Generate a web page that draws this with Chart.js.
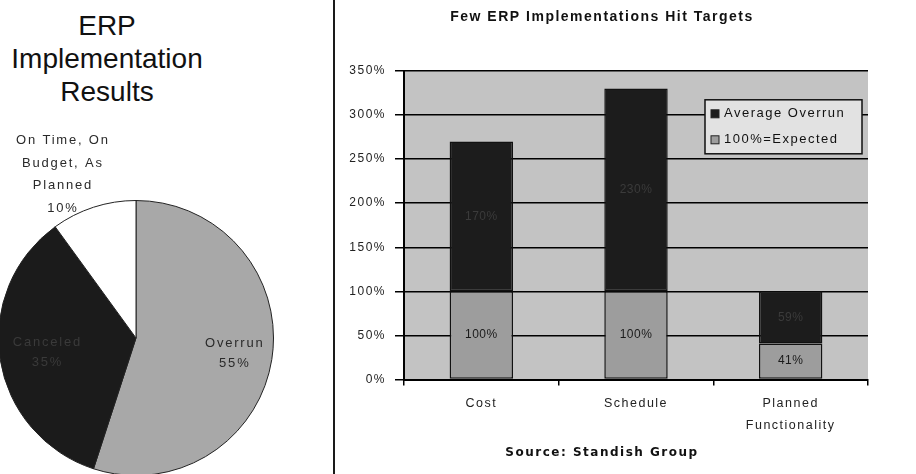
<!DOCTYPE html>
<html>
<head>
<meta charset="utf-8">
<script src="https://cdn.jsdelivr.net/npm/chart.js@4.4.0/dist/chart.umd.min.js"></script>
<style>
  body { margin: 0; width: 916px; height: 474px; background: #fff; overflow: hidden; position: relative; font-family: "Liberation Sans", Arial, sans-serif; }
  #pieWrap { position: absolute; left: 0; top: 0; width: 333px; height: 474px; overflow: hidden; }
  #pieTitle { position: absolute; left: 0; top: 9px; width: 214px; text-align: center; font-size: 28px; line-height: 33px; color: #111; }
  #pieCanvas { position: absolute; left: -2px; top: 0; }
  #divider { position: absolute; left: 333px; top: 0; width: 2px; height: 474px; background: #1a1a1a; }
  #barCanvas { position: absolute; left: 336px; top: 0; }
</style>
</head>
<body>
<div id="pieWrap">
  <div id="pieTitle">ERP<br>Implementation<br>Results</div>
  <canvas id="pieCanvas" width="276" height="476"></canvas>
</div>
<div id="divider"></div>
<canvas id="barCanvas" width="580" height="474"></canvas>

<script>
// --- dados do gráfico de pizza ---
const pieCategories = [['Overrun'], ['Canceled'], ['On Time, On', 'Budget, As', 'Planned']];
const pieValues = [55, 35, 10];
const pieColors = ['#a8a8a8', '#1b1b1b', '#ffffff'];

// --- dados do gráfico de barras ---
const barCategories = ['Cost', 'Schedule', ['Planned', 'Functionality']];
const expectedValues = [100, 100, 41];
const overrunValues = [170, 230, 59];
const yTicks = [0, 50, 100, 150, 200, 250, 300, 350];

Chart.defaults.font.family = '"Liberation Sans", Arial, sans-serif';
Chart.defaults.font.size = 12;
Chart.defaults.color = '#222';

// rótulos das fatias (dentro / fora da pizza)
const pieLabelDist = [0.72, 0.66, 1.25];
const pieLabels = {
    id: 'pieLabels',
    afterDatasetsDraw(chart) {
        const ctx = chart.ctx;
        const meta = chart.getDatasetMeta(0);
        ctx.save();
        ctx.font = '13px "Liberation Sans", Arial, sans-serif';
        ctx.letterSpacing = '1.8px';
        ctx.textAlign = 'center';
        ctx.textBaseline = 'middle';
        meta.data.forEach((arc, i) => {
            const mid = (arc.startAngle + arc.endAngle) / 2;
            const fora = pieLabelDist[i] > 1;
            const r = arc.outerRadius * pieLabelDist[i];
            let x = arc.x + Math.cos(mid) * r;
            const y = arc.y + Math.sin(mid) * r;
            if (fora) x -= 21;
            const lines = [...pieCategories[i], pieValues[i] + '%'];
            ctx.fillStyle = i === 1 ? '#3a3a3a' : '#2a2a2a';
            const lh = fora ? 22.5 : 20;
            const y0 = y - (lines.length - 1) * lh / 2;
            lines.forEach((t, k) => ctx.fillText(t, x + 1, y0 + k * lh));
        });
        ctx.restore();
    }
};

new Chart(document.getElementById('pieCanvas'), {
    type: 'pie',
    data: {
        labels: pieCategories,
        datasets: [{
            data: pieValues,
            backgroundColor: pieColors,
            borderColor: '#222',
            borderWidth: 1
        }]
    },
    options: {
        responsive: false,
        animation: false,
        devicePixelRatio: 1,
        layout: { padding: { top: 200 } },
        plugins: { legend: { display: false }, tooltip: { enabled: false } }
    },
    plugins: [pieLabels]
});

// texto largo como no original (espaçamento entre letras)
const wideText = {
    id: 'wideText',
    beforeLayout(chart) { chart.ctx.letterSpacing = '1.5px'; },
    beforeDraw(chart) { chart.ctx.letterSpacing = '1.5px'; }
};

// fundo cinza da área de plotagem
const plotBg = {
    id: 'plotBg',
    beforeDraw(chart) {
        const a = chart.chartArea;
        chart.ctx.save();
        chart.ctx.fillStyle = '#c3c3c3';
        chart.ctx.fillRect(a.left, a.top, a.right - a.left, a.bottom - a.top);
        chart.ctx.restore();
    }
};

// valores dentro das barras
const barValues = {
    id: 'barValues',
    afterDatasetsDraw(chart) {
        const ctx = chart.ctx;
        ctx.save();
        ctx.font = '12px "Liberation Sans", Arial, sans-serif';
        ctx.letterSpacing = '0.5px';
        ctx.textAlign = 'center';
        ctx.textBaseline = 'middle';
        chart.data.datasets.forEach((ds, di) => {
            chart.getDatasetMeta(di).data.forEach((bar, i) => {
                ctx.fillStyle = di === 1 ? '#3b3b3b' : '#1a1a1a';
                ctx.fillText(ds.data[i] + '%', bar.x, (bar.y + bar.base) / 2);
            });
        });
        ctx.restore();
    }
};

// legenda com moldura dentro da área de plotagem
const boxLegend = {
    id: 'boxLegend',
    afterDraw(chart) {
        const ctx = chart.ctx;
        const a = chart.chartArea;
        const w = 157, h = 54;
        const x = a.right - w - 6, y = a.top + 29;
        ctx.save();
        ctx.fillStyle = '#e2e2e2';
        ctx.fillRect(x, y, w, h);
        ctx.strokeStyle = '#111';
        ctx.lineWidth = 1.5;
        ctx.strokeRect(x, y, w, h);
        ctx.font = '13px "Liberation Sans", Arial, sans-serif';
        ctx.letterSpacing = '1.5px';
        ctx.textBaseline = 'middle';
        const items = chart.data.datasets.slice().reverse();
        items.forEach((ds, k) => {
            const cy = y + 14 + k * 26;
            ctx.fillStyle = ds.backgroundColor;
            ctx.fillRect(x + 6, cy - 4, 8, 8);
            ctx.strokeStyle = '#222';
            ctx.lineWidth = 1;
            ctx.strokeRect(x + 6, cy - 4, 8, 8);
            ctx.fillStyle = '#111';
            ctx.fillText(ds.label, x + 19, cy);
        });
        ctx.restore();
    }
};

new Chart(document.getElementById('barCanvas'), {
    type: 'bar',
    data: {
        labels: barCategories,
        datasets: [
            {
                label: '100%=Expected',
                data: expectedValues,
                backgroundColor: '#9d9d9d',
                borderColor: '#111',
                borderWidth: 1.5,
                borderSkipped: false,
                categoryPercentage: 1,
                barPercentage: 0.41
            },
            {
                label: 'Average Overrun',
                data: overrunValues,
                backgroundColor: '#1c1c1c',
                borderColor: '#111',
                borderWidth: 1.5,
                borderSkipped: false,
                categoryPercentage: 1,
                barPercentage: 0.41
            }
        ]
    },
    options: {
        responsive: false,
        animation: false,
        devicePixelRatio: 1,
        layout: { padding: { left: 0, right: 48, top: 0, bottom: 0 } },
        plugins: {
            legend: { display: false },
            tooltip: { enabled: false },
            title: {
                display: true,
                text: 'Few ERP Implementations Hit Targets',
                color: '#111',
                font: { size: 14, weight: 'bold' },
                padding: { top: 9, bottom: 45 }
            },
            subtitle: {
                display: true,
                position: 'bottom',
                text: 'Source: Standish Group',
                color: '#111',
                font: { family: '"DejaVu Sans", Verdana, sans-serif', size: 12, weight: 'bold' },
                padding: { top: 4, bottom: 14 }
            }
        },
        scales: {
            x: {
                stacked: true,
                grid: { offset: true, drawOnChartArea: false, color: '#000', tickLength: 6, lineWidth: 1.5 },
                border: { color: '#000', width: 2 },
                ticks: { color: '#222', padding: 7, maxRotation: 0, font: { size: 12.5, lineHeight: 1.75 } },
                afterFit: s => { s.height = 62; }
            },
            y: {
                stacked: true,
                min: 0,
                max: 350,
                afterBuildTicks: s => { s.ticks = yTicks.map(v => ({ value: v })); },
                ticks: { callback: v => v + '%', color: '#222', padding: 9, font: { size: 12 } },
                grid: { color: '#000', lineWidth: 1.5, tickLength: 9 },
                border: { color: '#000', width: 2 },
                afterFit: s => { s.width = 68; }
            }
        }
    },
    plugins: [wideText, plotBg, barValues, boxLegend]
});
</script>
</body>
</html>
